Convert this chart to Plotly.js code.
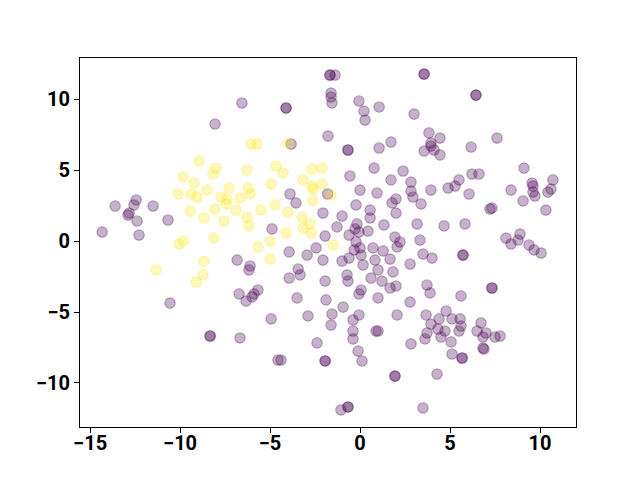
<!DOCTYPE html>
<html>
<head>
<meta charset="utf-8">
<script src="https://cdn.plot.ly/plotly-3.0.1.min.js"></script>
<style>html,body{margin:0;padding:0;background:#fff;}#chart{width:640px;height:480px;}</style>
</head>
<body>
<div id="chart"></div>
<script>
// Class 1 (yellow)
const x1 = [-8.94,-9.83,-9.22,-6.06,-5.72,-4.00,-8.00,-8.17,-6.28,-4.67,-4.28,-2.67,-2.11,-3.17,-2.11,-4.94,
  -10.11,-9.39,-9.06,-9.44,-8.67,-9.83,-10.06,-11.33,-8.67,-8.72,-9.11,-8.50,-7.28,-6.22,-6.11,-2.67,-2.61,
  -7.72,-7.39,-7.44,-6.67,-8.06,-6.89,-5.50,-4.72,-7.56,-6.28,-6.17,-4.00,-3.22,-2.61,-2.78,-3.17,-2.72,-4.11,
  -8.11,-5.00,-5.67,-5.00,-1.61,-1.50];
const y1 = [5.63,4.51,4.08,6.83,6.83,6.90,5.14,4.72,5.00,5.28,4.79,5.07,5.14,4.30,4.01,4.01,
  3.31,3.31,3.10,2.11,1.62,0.00,-0.21,-2.04,-1.41,-2.39,-2.89,3.59,3.73,3.73,3.31,3.87,3.66,
  3.10,2.96,2.61,3.03,2.25,2.18,2.18,2.54,1.41,1.69,1.06,2.04,1.69,2.82,1.20,0.92,0.56,0.56,
  0.21,0.00,-0.42,-1.27,3.24,-0.28];

// Class 0 (purple)
const x0 = [-1.67,-1.67,-1.39,-6.56,-4.11,-4.11,-8.06,-1.61,-1.61,-1.56,-1.78,-3.83,-0.06,0.22,0.28,1.06,3.00,
  3.56,3.56,-0.67,-0.67,1.06,1.72,3.83,3.94,3.94,4.44,3.56,4.11,4.44,0.78,2.39,-0.56,1.72,2.83,
  6.44,6.44,7.61,6.17,9.11,6.22,6.61,5.50,10.72,9.56,
  -13.61,-12.44,-12.56,-12.89,-12.83,-12.39,-11.50,-10.67,-14.33,-12.28,-10.56,
  -3.89,-3.56,-2.06,-1.80,-4.89,-1.94,-3.94,-2.94,-2.44,-2.06,-6.83,-6.11,-6.17,-3.44,-3.33,-3.94,-1.94,
  -5.67,-5.89,-6.00,-6.72,-6.33,-3.50,-1.89,
  0.00,0.94,2.83,2.94,3.94,4.89,2.00,1.78,3.39,-0.22,0.56,0.56,2.00,-1.00,-1.28,-0.17,-0.28,-0.06,0.44,
  -0.61,1.33,3.17,4.67,1.94,2.22,2.06,-0.22,3.33,0.00,-0.33,0.72,1.28,0.06,-0.61,-1.00,0.83,1.67,3.50,
  4.00,2.78,0.17,1.00,1.83,-0.72,-0.67,0.61,1.22,3.72,3.89,2.00,1.67,0.06,-0.06,1.00,2.78,-0.94,
  8.39,9.61,9.61,9.72,10.44,10.61,9.06,10.33,6.06,5.28,7.22,7.33,5.83,8.11,8.39,8.89,8.78,9.39,9.67,
  10.06,5.72,5.72,7.33,7.33,5.61,
  -4.94,-2.89,-8.33,-8.33,-6.67,-2.39,-4.56,-4.39,-1.94,-1.94,
  -1.56,-1.61,-0.06,-0.39,-0.39,-0.39,-0.11,0.11,0.89,1.00,2.06,2.83,1.94,1.94,4.28,-0.67,-0.67,-1.06,
  3.50,3.67,3.94,4.39,4.78,5.11,5.56,4.33,4.72,3.72,3.61,4.50,5.06,5.11,5.61,5.50,5.67,5.67,
  6.72,6.50,7.00,6.83,7.50,7.78,6.83,6.89];
const y0 = [11.69,11.69,11.69,9.72,9.37,9.37,8.24,10.42,10.14,9.72,7.39,6.83,9.86,9.15,8.52,9.44,8.94,
  11.76,11.76,6.41,6.41,6.55,6.97,7.61,6.90,6.69,7.25,6.34,6.41,6.06,5.14,4.93,4.58,4.30,4.15,
  10.28,10.28,7.25,6.62,5.14,4.72,4.72,4.30,4.30,4.08,
  2.46,2.89,2.54,1.83,1.97,1.41,2.46,1.48,0.63,0.42,-4.37,
  3.31,2.68,1.97,3.31,0.85,0.35,-0.77,-0.99,-0.49,-1.34,-1.34,-1.76,-2.04,-1.97,-2.39,-2.61,-2.82,
  -3.45,-3.73,-3.94,-3.73,-4.23,-4.01,-4.15,
  3.59,3.38,3.52,3.10,3.59,3.73,2.96,2.68,2.61,2.54,2.18,1.62,1.97,1.76,0.99,1.20,0.85,0.63,0.70,
  0.42,1.13,1.20,1.06,0.28,-0.07,-0.42,-0.07,0.07,-0.49,-0.63,-0.49,-0.70,-0.99,-1.20,-1.41,-1.34,-1.27,-0.92,
  -1.20,-1.62,-1.69,-2.04,-2.18,-2.39,-2.82,-2.61,-2.82,-3.10,-3.66,-3.17,-3.31,-3.45,-3.73,-4.01,-4.30,-4.65,
  3.59,3.87,3.45,3.17,3.45,3.66,2.82,2.18,3.31,3.87,2.25,2.32,1.20,0.21,-0.21,0.49,0.07,-0.28,-0.63,
  -0.85,-0.99,-0.99,-3.31,-3.31,-3.87,
  -5.49,-5.28,-6.69,-6.69,-6.83,-7.18,-8.38,-8.38,-8.45,-8.45,
  -5.14,-5.92,-5.21,-5.56,-6.34,-6.90,-7.75,-8.45,-6.34,-6.34,-5.21,-7.25,-9.51,-9.51,-9.37,-11.69,-11.69,-11.90,
  -11.76,-5.21,-5.85,-5.49,-4.93,-5.49,-5.49,-6.20,-6.34,-6.48,-6.90,-6.76,-7.11,-7.96,-5.99,-6.34,-8.24,-8.24,
  -5.77,-6.34,-6.48,-6.76,-6.76,-6.69,-7.54,-7.61];

const purple = 'rgba(68,1,84,0.3)';
const yellow = 'rgba(253,231,37,0.3)';

const traces = [
  {type:'scatter', mode:'markers', x:x0, y:y0, hoverinfo:'skip',
   marker:{size:10.5, color:purple, line:{color:purple, width:1.2}}},
  {type:'scatter', mode:'markers', x:x1, y:y1, hoverinfo:'skip',
   marker:{size:10.5, color:yellow, line:{color:yellow, width:1.2}}}
];

const tickFont = {family:'Roboto', size:20, color:'#000', weight:'bold'};
const layout = {
  width:640, height:480, showlegend:false,
  paper_bgcolor:'#fff', plot_bgcolor:'#fff',
  margin:{l:80, r:64, t:58, b:53, pad:0},
  xaxis:{range:[-15.56,12.0], tickvals:[-15,-10,-5,0,5,10], ticktext:['−15','−10','−5','0','5','10'],
    showgrid:false, zeroline:false, showline:true, mirror:true, linecolor:'#000', linewidth:1,
    ticks:'outside', ticklen:5, tickwidth:1, tickcolor:'#000', tickfont:tickFont, ticklabelstandoff:-7},
  yaxis:{range:[-13.1,12.89], tickvals:[-10,-5,0,5,10], ticktext:['−10','−5','0','5','10'],
    showgrid:false, zeroline:false, showline:true, mirror:true, linecolor:'#000', linewidth:1,
    ticks:'outside', ticklen:5, tickwidth:1, tickcolor:'#000', tickfont:tickFont}
};
Plotly.newPlot('chart', traces, layout, {staticPlot:true});
</script>
</body>
</html>
